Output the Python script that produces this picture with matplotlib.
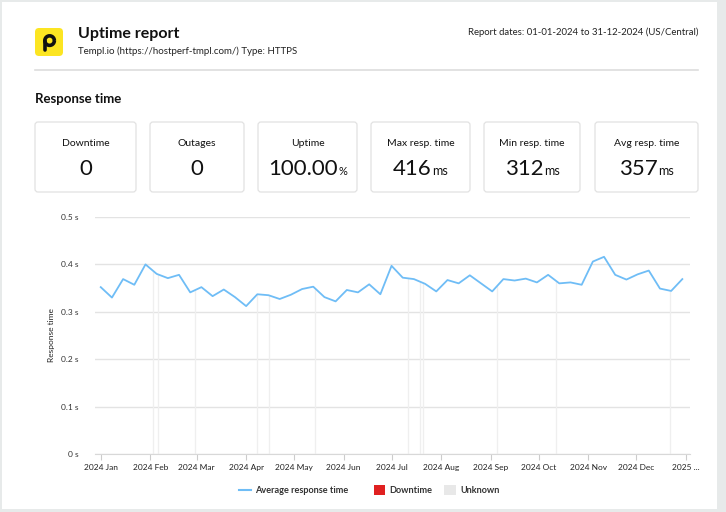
import matplotlib
matplotlib.use("Agg")
import matplotlib.pyplot as plt
import matplotlib.dates as mdates
from matplotlib.patches import FancyBboxPatch, Rectangle, Arc
import numpy as np
import datetime as dt

plt.rcParams['font.family'] = ['Lato', 'DejaVu Sans']

# weekly average response time (s), starting 2024-01-01
start = dt.date(2024, 1, 1)
resp_time = [0.352, 0.330, 0.369, 0.357, 0.400, 0.380, 0.371, 0.378, 0.341, 0.352,
             0.333, 0.347, 0.331, 0.312, 0.337, 0.335, 0.327, 0.336, 0.348, 0.353,
             0.331, 0.322, 0.346, 0.341, 0.358, 0.337, 0.397, 0.372, 0.369, 0.359,
             0.343, 0.367, 0.360, 0.377, 0.360, 0.343, 0.369, 0.366, 0.370, 0.362,
             0.378, 0.360, 0.362, 0.357, 0.406, 0.416, 0.378, 0.368, 0.379, 0.387,
             0.349, 0.344, 0.369]
week_dates = [start + dt.timedelta(days=7 * i) for i in range(len(resp_time))]

# periods with unknown status
unknown_dates = ['2024-02-03', '2024-02-06', '2024-02-29', '2024-04-08', '2024-04-15',
                 '2024-05-14', '2024-07-11', '2024-07-19', '2024-07-21', '2024-09-05',
                 '2024-10-12', '2024-12-22']

stat_labels = ['Downtime', 'Outages', 'Uptime', 'Max resp. time', 'Min resp. time', 'Avg resp. time']
stat_values = ['0', '0', '100.00', '416', '312', '357']
stat_units = ['', '', '%', 'ms', 'ms', 'ms']

month_labels = ['2024 Jan', '2024 Feb', '2024 Mar', '2024 Apr', '2024 May', '2024 Jun',
                '2024 Jul', '2024 Aug', '2024 Sep', '2024 Oct', '2024 Nov', '2024 Dec',
                '2025 ...']
y_ticks = [0, 0.1, 0.2, 0.3, 0.4, 0.5]

W, H = 726, 512
fig = plt.figure(figsize=(W / 100, H / 100), dpi=100)
fig.patch.set_facecolor('#e7eaea')

# overlay in pixel coords for the card and header
bg = fig.add_axes([0, 0, 1, 1], zorder=0)
bg.set_xlim(0, W)
bg.set_ylim(H, 0)
bg.axis('off')

bg.add_patch(Rectangle((2, 2), 715, 507, facecolor='white', edgecolor='none'))

# logo
bg.add_patch(FancyBboxPatch((35, 28), 28, 28, boxstyle='round,pad=0,rounding_size=4',
                            facecolor='#fce522', edgecolor='none'))
bg.add_patch(Arc((49.6, 40.6), 9.5, 9.5, theta1=0, theta2=360, color='#111111', lw=2.6))
bg.plot([44.9, 44.9], [40.6, 49.5], color='#111111', lw=2.6, solid_capstyle='round')

bg.text(78, 34, 'Uptime report', fontsize=11.5, fontweight='bold', va='center', color='#111111')
bg.text(78, 51, 'Templ.io (https://hostperf-tmpl.com/) Type: HTTPS', fontsize=7,
        va='center', color='#222222')
bg.text(698, 32, 'Report dates: 01-01-2024 to 31-12-2024 (US/Central)', fontsize=6.9,
        va='center', ha='right', color='#222222')
bg.plot([35, 698], [69.5, 69.5], color='#dddddd', lw=1.2)
bg.text(35, 99, 'Response time', fontsize=9.5, fontweight='bold', va='center', color='#111111')

# stat boxes
box_x = [(35, 136), (150, 244), (258, 357), (371, 470), (484, 580), (595, 698)]
fig.canvas.draw()
renderer = fig.canvas.get_renderer()
for (x0, x1), lab, val, unit in zip(box_x, stat_labels, stat_values, stat_units):
    bg.add_patch(FancyBboxPatch((x0, 122), x1 - x0, 70, boxstyle='round,pad=0,rounding_size=3',
                                facecolor='white', edgecolor='#e2e2e2', lw=0.9))
    cx = (x0 + x1) / 2
    bg.text(cx, 143, lab, fontsize=7.5, ha='center', va='center', color='#111111')
    tv = bg.text(0, 175, val, fontsize=16, ha='left', va='baseline', color='#111111')
    tu = bg.text(0, 175, unit, fontsize=9 if unit == 'ms' else 8, ha='left',
                 va='baseline', color='#111111')
    wv = tv.get_window_extent(renderer).width
    wu = tu.get_window_extent(renderer).width if unit else 0
    left = cx - (wv + wu) / 2
    tv.set_x(left)
    tu.set_x(left + wv + 0.5)

# chart
ax = fig.add_axes([95 / W, 1 - 454 / H, (690 - 95) / W, (454 - 217) / H], zorder=1)
ax.set_facecolor('none')
x_dates = mdates.date2num(week_dates)
ax.set_xlim(mdates.date2num(start) - 3.6, mdates.date2num(start) + 368.8)
ax.set_ylim(0, 0.5)

u_num = mdates.date2num([dt.date.fromisoformat(d) for d in unknown_dates])
u_top = np.interp(u_num, x_dates, resp_time)
ax.vlines(u_num, 0, u_top, color='#efefef', lw=0.9, zorder=1)

for y in y_ticks:
    ax.axhline(y, color='#e3e3e3', lw=1.0, zorder=0)
ax.plot(x_dates, resp_time, color='#6fbdf6', lw=1.3, zorder=3)

ax.set_yticks(y_ticks)
ax.set_yticklabels([f'{y:g} s' for y in y_ticks], fontsize=6, color='#333333')
ax.tick_params(axis='y', length=0, pad=12)
month_ticks = [dt.date(2024 + (m // 12), m % 12 + 1, 1) for m in range(13)]
ax.set_xticks(mdates.date2num(month_ticks))
ax.set_xticklabels(month_labels, fontsize=6, color='#222222')
ax.tick_params(axis='x', length=4, color='#cccccc', pad=3)
for s in ['top', 'right', 'left']:
    ax.spines[s].set_visible(False)
ax.spines['bottom'].set_color('#d8d8d8')
ax.set_ylabel('Response time', fontsize=6, color='#222222', labelpad=4)

# legend
bg.plot([239, 251], [490, 490], color='#6fbdf6', lw=1.5)
bg.text(255, 490.5, 'Average response time', fontsize=6.6, fontweight='bold', va='center', color='#333333')
bg.add_patch(Rectangle((374, 485), 11, 10, facecolor='#e02020', edgecolor='none'))
bg.text(389, 490.5, 'Downtime', fontsize=6.6, fontweight='bold', va='center', color='#333333')
bg.add_patch(Rectangle((444, 485), 12, 10, facecolor='#e8e8e8', edgecolor='none'))
bg.text(460, 490.5, 'Unknown', fontsize=6.6, fontweight='bold', va='center', color='#333333')

fig.savefig('out.png', dpi=100, facecolor=fig.get_facecolor())
